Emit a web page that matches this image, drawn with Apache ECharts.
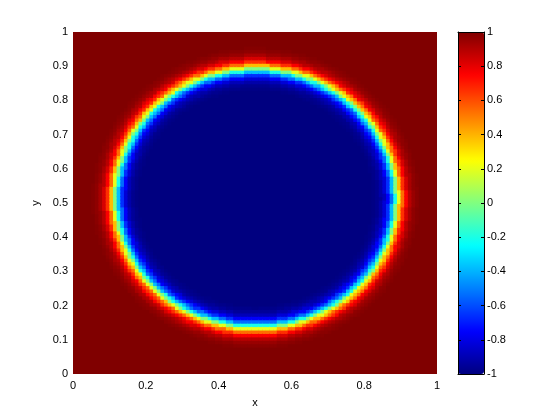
<!DOCTYPE html>
<html>
<head>
<meta charset="utf-8">
<script src="https://cdn.jsdelivr.net/npm/echarts@6/dist/echarts.min.js"></script>
<style>
  html, body { margin: 0; padding: 0; background: #fff; }
  #chart { width: 560px; height: 420px; }
</style>
</head>
<body>
<div id="chart"></div>
<script>
// grid of cells, 100 x 100 over [0,1] x [0,1]
const gridSize = 100;
const cellIndex = Array.from({ length: gridSize }, (_, i) => i);

// interface (where the colour crosses 0)
const circleCenter = [0.502, 0.516];
const circleRadius = [0.386, 0.378];

// value across the interface
// signed distance from -0.08 (inside) to +0.08 (outside), step 0.005
const profileStep = 0.005;
const profileStart = -0.08;
const profileValues = [
  -1.00, -1.00, -1.00, -1.00, -0.99, -0.98, -0.97, -0.95,
  -0.92, -0.89, -0.83, -0.76, -0.66, -0.54, -0.38, -0.20,
  0.00,
  0.20, 0.38, 0.54, 0.66, 0.76, 0.83, 0.89, 0.92,
  0.95, 0.97, 0.98, 0.99, 1.00, 1.00, 1.00, 1.00
];

// jet colormap stops
const jetColors = ['#000080', '#0000ff', '#0080ff', '#00ffff', '#80ff80',
                   '#ffff00', '#ff8000', '#ff0000', '#800000'];

const font = "'Liberation Sans', Arial, sans-serif";

function lookup(cx, cy) {
  let dx = (cx - circleCenter[0]) / circleRadius[0];
  let dy = (cy - circleCenter[1]) / circleRadius[1];
  let rMean = (circleRadius[0] + circleRadius[1]) / 2;
  let d = (Math.sqrt(dx * dx + dy * dy) - 1) * rMean;
  let idx = Math.round((d - profileStart) / profileStep);
  idx = Math.max(0, Math.min(profileValues.length - 1, idx));
  return profileValues[idx];
}

let cells = [];
cellIndex.forEach(i => {
  cellIndex.forEach(j => {
    let cx = (i + 0.5) / gridSize;
    let cy = (j + 0.5) / gridSize;
    cells.push([cx, cy, lookup(cx, cy)]);
  });
});

let chart = echarts.init(document.getElementById('chart'));

let labelStyle = { color: '#000', fontSize: 11, fontFamily: font };
let boxLine = { show: true, onZero: false, lineStyle: { color: '#000', width: 1 } };
let half = 0.5 / gridSize;

function renderCell(params, api) {
  let x = api.value(0);
  let y = api.value(1);
  let p0 = api.coord([x - half, y + half]);
  let p1 = api.coord([x + half, y - half]);
  return {
    type: 'rect',
    shape: {
      x: p0[0],
      y: p0[1],
      // overlap so no seams show between cells
      width: p1[0] - p0[0] + 1,
      height: p1[1] - p0[1] + 1
    },
    style: { fill: api.visual('color') }
  };
}

let option = {
  animation: false,
  backgroundColor: '#fff',
  grid: [
    { left: 73, top: 32, width: 364, height: 342 },
    { left: 458, top: 32, width: 26, height: 342 }
  ],
  xAxis: [
    {
      type: 'value', gridIndex: 0, position: 'bottom', min: 0, max: 1, interval: 0.2,
      axisLine: { show: false }, axisTick: { show: false }, splitLine: { show: false },
      axisLabel: Object.assign({ margin: 6 }, labelStyle),
      name: 'x', nameLocation: 'middle', nameGap: 23, nameTextStyle: labelStyle
    },
    {
      type: 'value', gridIndex: 1, position: 'bottom', min: 0, max: 1, z: 10,
      axisLine: boxLine, axisTick: { show: false }, axisLabel: { show: false }, splitLine: { show: false }
    },
    {
      type: 'value', gridIndex: 1, position: 'top', min: 0, max: 1, z: 10,
      axisLine: boxLine, axisTick: { show: false }, axisLabel: { show: false }, splitLine: { show: false }
    }
  ],
  yAxis: [
    {
      type: 'value', gridIndex: 0, position: 'left', min: 0, max: 1, interval: 0.1,
      axisLine: { show: false }, axisTick: { show: false }, splitLine: { show: false },
      axisLabel: Object.assign({ margin: 5 }, labelStyle),
      name: 'y', nameLocation: 'middle', nameGap: 30, nameTextStyle: labelStyle
    },
    {
      type: 'value', gridIndex: 1, position: 'left', min: -1, max: 1, interval: 0.2, z: 10,
      axisLine: boxLine, axisTick: { show: true, inside: true, length: 3, lineStyle: { color: '#000' } },
      axisLabel: { show: false }, splitLine: { show: false }
    },
    {
      type: 'value', gridIndex: 1, position: 'right', min: -1, max: 1, interval: 0.2, z: 10,
      axisLine: boxLine, axisTick: { show: true, inside: true, length: 3, lineStyle: { color: '#000' } },
      axisLabel: Object.assign({ margin: 3 }, labelStyle), splitLine: { show: false }
    }
  ],
  visualMap: {
    type: 'continuous',
    min: -1,
    max: 1,
    dimension: 2,
    seriesIndex: 0,
    calculable: false,
    hoverLink: false,
    left: 458,
    top: 32,
    padding: 0,
    itemWidth: 26,
    itemHeight: 342,
    inRange: { color: jetColors }
  },
  series: [
    {
      type: 'custom',
      xAxisIndex: 0,
      yAxisIndex: 0,
      data: cells,
      clip: true,
      progressive: 0,
      renderItem: renderCell
    }
  ]
};

chart.setOption(option);
</script>
</body>
</html>
